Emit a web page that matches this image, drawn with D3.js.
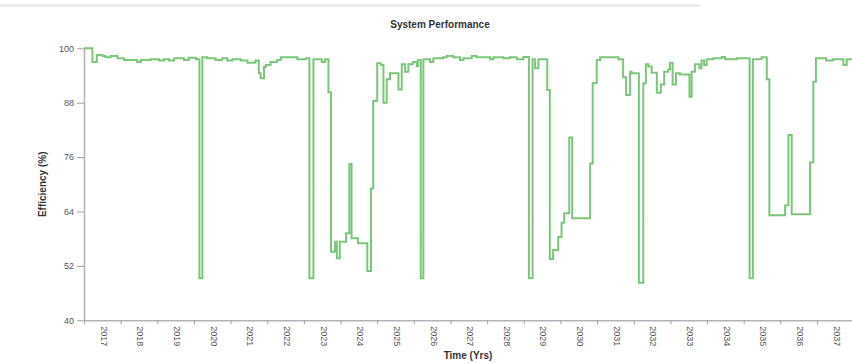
<!DOCTYPE html>
<html>
<head>
<meta charset="utf-8">
<script src="https://cdn.jsdelivr.net/npm/d3@7"></script>
<style>
  html, body { margin: 0; padding: 0; background: #fff; }
  svg { display: block; font-family: "Liberation Sans", Arial, sans-serif; }
</style>
</head>
<body>
<svg id="chart" width="852" height="363"></svg>
<script>
// Step change points (decimal years) and the efficiency held from each point on
const stepYears = [
  2017.00, 2017.23, 2017.35, 2017.50, 2017.59, 2017.73, 2017.91, 2018.09, 2018.45, 2018.55,
  2018.82, 2019.05, 2019.18, 2019.32, 2019.46, 2019.73, 2019.86, 2020.05, 2020.15, 2020.23,
  2020.36, 2020.59, 2020.77, 2020.91, 2021.05, 2021.28, 2021.46, 2021.68, 2021.77, 2021.82,
  2021.91, 2021.96, 2022.09, 2022.27, 2022.37, 2022.82, 2023.05, 2023.15, 2023.26, 2023.49,
  2023.58, 2023.67, 2023.74, 2023.85, 2023.90, 2023.98, 2024.15, 2024.24, 2024.30, 2024.48,
  2024.73, 2024.83, 2024.89, 2025.00, 2025.10, 2025.17, 2025.26, 2025.35, 2025.58, 2025.67,
  2025.76, 2025.85, 2025.97, 2026.08, 2026.11, 2026.19, 2026.26, 2026.44, 2026.53, 2026.80,
  2026.90, 2027.08, 2027.26, 2027.35, 2027.58, 2027.71, 2028.08, 2028.17, 2028.44, 2028.62,
  2028.81, 2028.99, 2029.14, 2029.24, 2029.31, 2029.40, 2029.64, 2029.71, 2029.80, 2029.94,
  2030.03, 2030.10, 2030.24, 2030.32, 2030.81, 2030.88, 2030.99, 2031.08, 2031.58, 2031.71,
  2031.79, 2031.90, 2031.94, 2032.14, 2032.26, 2032.33, 2032.40, 2032.49, 2032.63, 2032.74,
  2032.83, 2032.94, 2032.99, 2033.06, 2033.15, 2033.26, 2033.52, 2033.58, 2033.67, 2033.79,
  2033.85, 2033.92, 2033.99, 2034.17, 2034.40, 2034.49, 2034.81, 2035.16, 2035.25, 2035.49,
  2035.63, 2035.70, 2036.13, 2036.22, 2036.31, 2036.81, 2036.90, 2036.97, 2037.25, 2037.43,
  2037.72, 2037.81, 2037.95
];
const efficiency = [
  100.0, 97.0, 98.5, 98.3, 98.0, 98.3, 97.8, 97.4, 97.0, 97.4,
  97.6, 97.3, 97.6, 97.3, 97.8, 97.4, 97.9, 97.6, 49.3, 98.0,
  97.8, 97.4, 97.8, 97.3, 97.6, 97.3, 96.8, 97.3, 94.5, 93.4,
  95.9, 96.3, 97.0, 97.4, 98.0, 97.6, 97.8, 49.3, 97.6, 97.0,
  97.6, 90.3, 55.1, 57.3, 53.7, 57.3, 59.2, 74.5, 58.1, 57.0,
  50.9, 69.1, 88.4, 96.7, 96.3, 88.0, 93.2, 94.5, 90.9, 96.5,
  94.8, 96.5, 97.0, 96.1, 97.4, 49.3, 97.6, 97.0, 97.8, 98.0,
  98.3, 98.0, 97.4, 97.8, 98.3, 98.0, 97.6, 98.0, 97.8, 98.0,
  97.6, 98.1, 49.3, 97.6, 95.6, 97.6, 90.8, 53.5, 55.5, 58.4,
  61.5, 63.6, 80.3, 62.5, 74.6, 92.3, 97.4, 98.0, 97.6, 93.6,
  89.7, 94.8, 94.5, 48.3, 92.3, 96.5, 96.0, 94.6, 90.2, 92.0,
  94.8, 95.3, 96.8, 92.0, 94.5, 94.2, 89.3, 94.8, 96.5, 95.6,
  97.3, 96.3, 97.6, 97.8, 98.1, 97.6, 97.8, 49.3, 97.6, 98.0,
  93.2, 63.2, 65.4, 80.9, 63.4, 74.8, 92.6, 97.8, 97.3, 97.6,
  96.3, 97.6, 97.6
];
const yearTicks = d3.range(2017, 2038);
const efficiencyTicks = [40, 52, 64, 76, 88, 100];

const chartTitle = "System Performance";
const xTitle = "Time (Yrs)";
const yTitle = "Efficiency (%)";

const svg = d3.select("#chart");
const plotLeft = 84, plotRight = 853.65, plotTop = 48.3, plotBottom = 320.3;

const x = d3.scaleLinear().domain([2017, 2038]).range([plotLeft, plotRight]);
const y = d3.scaleLinear().domain([40, 100]).range([plotBottom, plotTop]);

// faint rule across the top of the panel
svg.append("line")
  .attr("x1", 0).attr("x2", 700).attr("y1", 5.5).attr("y2", 5.5)
  .attr("stroke", "#e4e4e4").attr("stroke-width", 2);

// x axis: ticks at year boundaries, labels rotated and centred in each year
const xAxis = svg.append("g")
  .attr("transform", `translate(0,${plotBottom})`)
  .call(d3.axisBottom(x).tickValues(yearTicks).tickFormat(d3.format("d")).tickSize(4).tickSizeOuter(0));
const halfYear = (x(2018) - x(2017)) / 2;
xAxis.selectAll("text")
  .attr("transform", `translate(${halfYear + 1},0) rotate(90)`)
  .attr("x", 6).attr("y", 0).attr("dy", "0.35em")
  .attr("text-anchor", "start");

// y axis
const yAxis = svg.append("g")
  .attr("transform", `translate(${plotLeft},0)`)
  .call(d3.axisLeft(y).tickValues(efficiencyTicks).tickSize(7).tickSizeOuter(0));
yAxis.selectAll("text").attr("x", -10);

svg.selectAll(".domain").attr("stroke", "#b4b4b4").attr("stroke-width", 1.6);
svg.selectAll(".tick line").attr("stroke", "#a0a0a0");
svg.selectAll(".tick text").attr("fill", "#555").style("font-size", "9px");

// efficiency trace
const series = stepYears.map((t, i) => ({ t, v: efficiency[i] }));
const line = d3.line().x(d => x(d.t)).y(d => y(d.v)).curve(d3.curveStepAfter);
svg.append("path")
  .datum(series)
  .attr("fill", "none")
  .attr("stroke", "#7cc67c")
  .attr("stroke-width", 2)
  .attr("d", line);

// titles
svg.append("text")
  .attr("x", 440).attr("y", 28)
  .attr("text-anchor", "middle")
  .style("font-size", "10px").style("font-weight", "bold").attr("fill", "#333")
  .text(chartTitle);

svg.append("text")
  .attr("x", 468).attr("y", 359)
  .attr("text-anchor", "middle")
  .style("font-size", "10px").style("font-weight", "bold").attr("fill", "#333")
  .text(xTitle);

svg.append("text")
  .attr("transform", `translate(46,${(plotTop + plotBottom) / 2}) rotate(-90)`)
  .attr("text-anchor", "middle")
  .style("font-size", "10px").style("font-weight", "bold").attr("fill", "#333")
  .text(yTitle);
</script>
</body>
</html>
